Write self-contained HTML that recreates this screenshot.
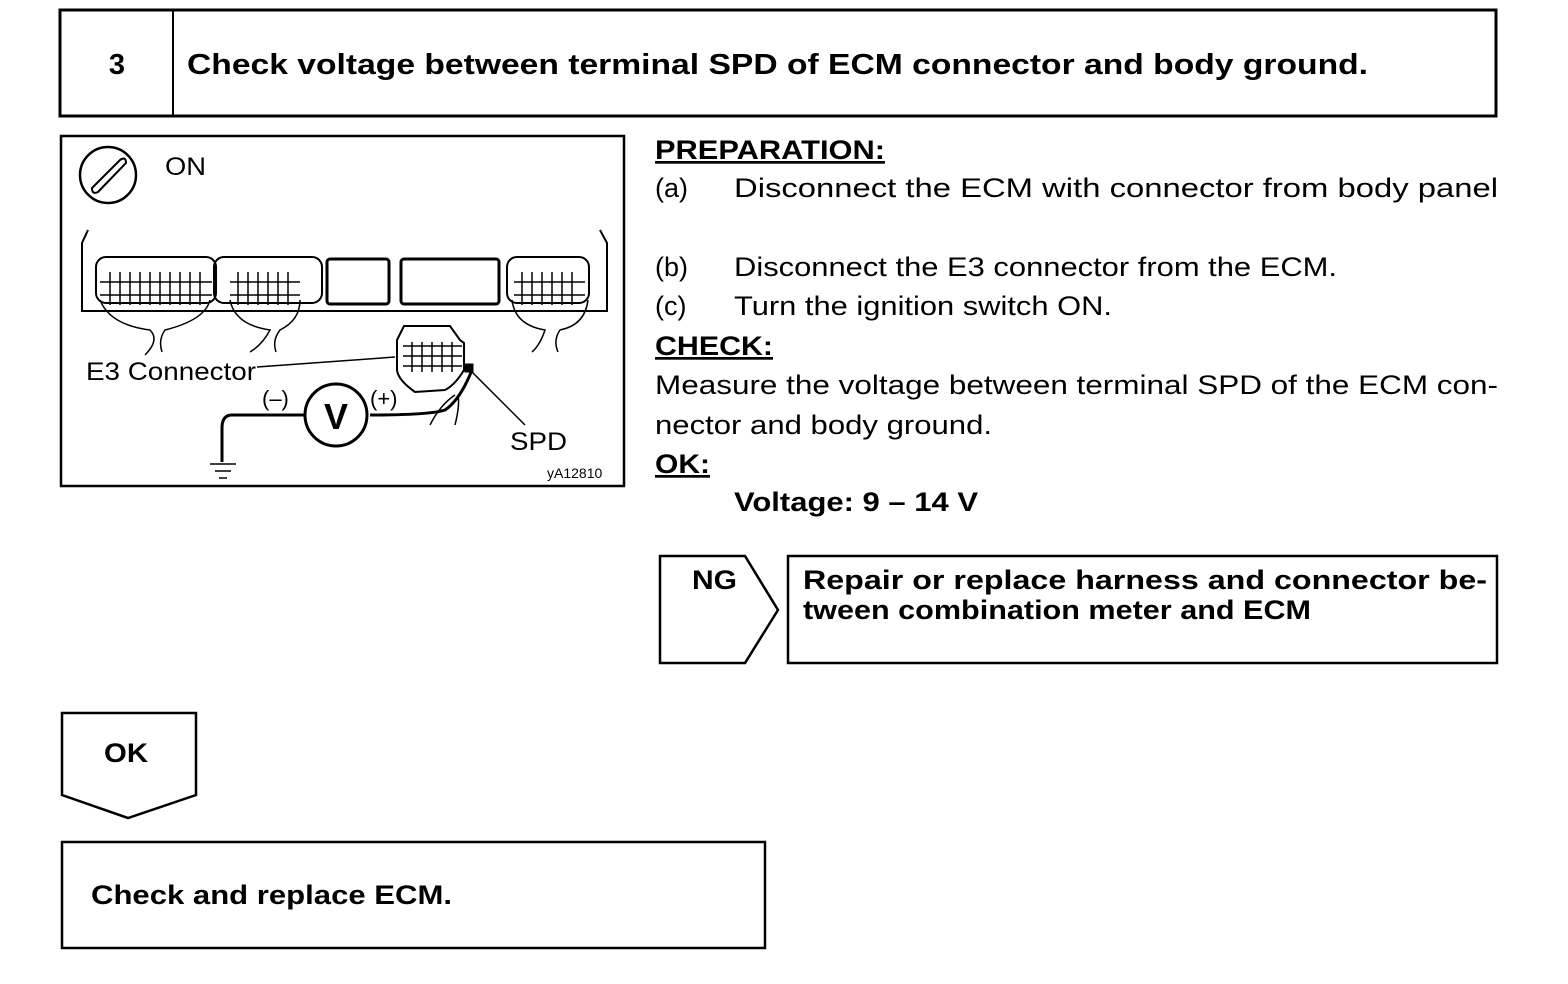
<!DOCTYPE html>
<html><head><style>
body{margin:0;background:#fff;}
svg{display:block;font-family:"Liberation Sans",Arial,sans-serif;}
</style></head><body>
<svg width="1568" height="984" viewBox="0 0 1568 984" xmlns="http://www.w3.org/2000/svg">
<g fill="none" stroke="#000">
<rect x="60" y="10" width="1436" height="106" stroke-width="3"/>
<line x1="173" y1="10" x2="173" y2="116" stroke-width="2"/>
<rect x="61" y="136" width="563" height="350" stroke-width="2.5"/>
<path d="M660 556 H745 L778 610 L745 663 H660 Z" stroke-width="2.5"/>
<rect x="788" y="556" width="709" height="107" stroke-width="2.5"/>
<path d="M62 713 H196 V795 L128 818 L62 795 Z" stroke-width="2.5"/>
<rect x="62" y="842" width="703" height="106" stroke-width="2.5"/>
<circle cx="108" cy="175" r="28" stroke-width="2.5"/>
<path d="M92 188 L120 160 Q126 156 126 163 L98 192 Q92 195 92 188 Z" stroke-width="2"/>
<path d="M88 230 L82 243 V311 H607 V243 L600 230" stroke-width="2"/>
<rect x="96" y="257" width="120" height="46" rx="10" stroke-width="2"/>
<rect x="214" y="257" width="108" height="46" rx="10" stroke-width="2"/>
<rect x="327" y="259" width="62" height="45" rx="3" stroke-width="3"/>
<rect x="401" y="259" width="98" height="45" rx="3" stroke-width="3"/>
<rect x="507" y="257" width="82" height="46" rx="10" stroke-width="2"/>
<path d="M100 282 H212 M230 282 H300 M514 282 H585 M100 295 H212 M230 295 H300 M514 295 H585" stroke-width="1.5"/>
<path d="M110 272 V305 M120 272 V305 M130 272 V305 M140 272 V305 M150 272 V305 M160 272 V305 M170 272 V305 M180 272 V305 M190 272 V305 M200 272 V305 M238 272 V305 M248 272 V305 M258 272 V305 M268 272 V305 M278 272 V305 M288 272 V305 M522 272 V305 M532 272 V305 M542 272 V305 M552 272 V305 M562 272 V305 M572 272 V305" stroke-width="1.5"/>
<path d="M100 300 Q110 325 150 330 Q160 340 145 355 M210 300 Q205 320 165 330 Q158 340 162 352 M230 300 Q235 325 270 330 Q262 345 250 352 M300 300 Q300 320 280 330 Q272 340 276 352 M512 300 Q515 325 545 330 Q540 345 532 352 M588 300 Q585 325 560 330 Q553 340 558 352" stroke-width="1.5"/>
<path d="M397 340 L404 326 H450 L460 340 L464 343 V370 Q455 385 445 390 L415 392 Q398 380 397 370 Z" stroke-width="2"/>
<path d="M403 346 H462 M403 356 H462 M403 366 H462 M412 342 V372 M422 342 V372 M432 342 V372 M442 342 V372 M452 342 V372" stroke-width="1.5"/>
<rect x="465" y="364" width="8" height="8" fill="#000"/>
<path d="M257 367 L395 357" stroke-width="1.5"/>
<path d="M470 370 L525 425" stroke-width="1.5"/>
<path d="M472 370 Q460 400 445 410 Q430 415 370 415" stroke-width="3"/>
<circle cx="336" cy="415" r="31" stroke-width="3"/>
<path d="M305 415 H232 Q222 415 222 428 V462" stroke-width="3"/>
<path d="M210 464 H236 M215 471 H231 M219 478 H227" stroke-width="1.5"/>
<path d="M430 425 Q440 405 455 395 M455 425 Q460 405 458 395" stroke-width="1.5"/>
</g>
<g fill="#000">
<text x="117" y="74" font-size="29" font-weight="bold" text-anchor="middle">3</text>
<text x="187" y="74" font-size="29" font-weight="bold" textLength="1181" lengthAdjust="spacingAndGlyphs">Check voltage between terminal SPD of ECM connector and body ground.</text>
<text x="165" y="175" font-size="25" textLength="41" lengthAdjust="spacingAndGlyphs">ON</text>
<text x="86" y="380" font-size="25" textLength="170" lengthAdjust="spacingAndGlyphs">E3 Connector</text>
<text x="262" y="406" font-size="22">(–)</text>
<text x="370" y="406" font-size="22">(+)</text>
<text x="336" y="429" font-size="36" font-weight="bold" text-anchor="middle">V</text>
<text x="510" y="450" font-size="25" textLength="57" lengthAdjust="spacingAndGlyphs">SPD</text>
<text x="547" y="478" font-size="14">yA12810</text>
<g font-size="27">
<text x="655" y="159" font-weight="bold" text-decoration="underline" textLength="230" lengthAdjust="spacingAndGlyphs">PREPARATION:</text>
<text x="655" y="197">(a)</text>
<text x="734" y="197" textLength="764" lengthAdjust="spacingAndGlyphs">Disconnect the ECM with connector from body panel</text>
<text x="655" y="276">(b)</text>
<text x="734" y="276" textLength="603" lengthAdjust="spacingAndGlyphs">Disconnect the E3 connector from the ECM.</text>
<text x="655" y="315">(c)</text>
<text x="734" y="315" textLength="378" lengthAdjust="spacingAndGlyphs">Turn the ignition switch ON.</text>
<text x="655" y="355" font-weight="bold" text-decoration="underline" textLength="118" lengthAdjust="spacingAndGlyphs">CHECK:</text>
<text x="655" y="394" textLength="843" lengthAdjust="spacingAndGlyphs">Measure the voltage between terminal SPD of the ECM con-</text>
<text x="655" y="434" textLength="337" lengthAdjust="spacingAndGlyphs">nector and body ground.</text>
<text x="655" y="473" font-weight="bold" text-decoration="underline" textLength="55" lengthAdjust="spacingAndGlyphs">OK:</text>
<text x="734" y="511" font-weight="bold" textLength="244" lengthAdjust="spacingAndGlyphs">Voltage: 9 – 14 V</text>
<text x="692" y="589" font-weight="bold" textLength="45" lengthAdjust="spacingAndGlyphs">NG</text>
<text x="803" y="589" font-weight="bold" textLength="684" lengthAdjust="spacingAndGlyphs">Repair or replace harness and connector be-</text>
<text x="803" y="619" font-weight="bold" textLength="508" lengthAdjust="spacingAndGlyphs">tween combination meter and ECM</text>
<text x="104" y="762" font-weight="bold" textLength="44" lengthAdjust="spacingAndGlyphs">OK</text>
<text x="91" y="904" font-weight="bold" textLength="361" lengthAdjust="spacingAndGlyphs">Check and replace ECM.</text>
</g>
</g>
</svg>
</body></html>
